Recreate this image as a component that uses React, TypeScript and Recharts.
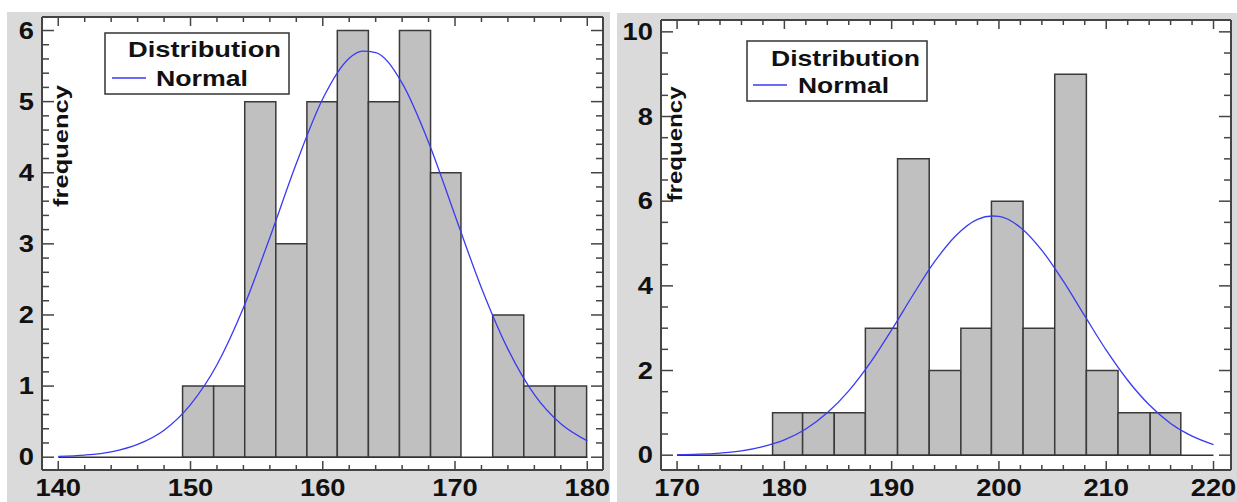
import { ComposedChart, Line, XAxis, YAxis, ReferenceArea, ReferenceLine, CartesianGrid } from 'recharts';

const FONT = "'Liberation Sans', Arial, Helvetica, sans-serif";
const INK = '#444';
const PANEL_BG = '#dadada';
const CURVE = '#3a3af2';
const DIGIT_W = 15.2;

// left sample
const leftEdges = [149.4, 151.75, 154.1, 156.45, 158.8, 161.1, 163.45, 165.8, 168.15, 170.45, 172.85, 175.2, 177.55, 179.95];
const leftCounts = [1, 1, 5, 3, 5, 6, 5, 6, 4, 0, 2, 1, 1];
const leftCurveX = [140, 142, 144, 146, 148, 150, 152, 154, 156, 158, 160, 162, 163, 164, 166, 168, 170, 172, 174, 176, 178, 180];
const leftCurveY = [0.011, 0.03, 0.076, 0.18, 0.38, 0.74, 1.3, 2.1, 3.09, 4.13, 5.04, 5.61, 5.71, 5.69, 5.26, 4.43, 3.4, 2.38, 1.52, 0.88, 0.47, 0.23];
const leftXMajor = [140, 150, 160, 170, 180];
const leftXTicks = [140, 142, 144, 146, 148, 150, 152, 154, 156, 158, 160, 162, 164, 166, 168, 170, 172, 174, 176, 178, 180];
const leftYMajor = [0, 1, 2, 3, 4, 5, 6];
const leftYTicks = [0, 0.2, 0.4, 0.6, 0.8, 1, 1.2, 1.4, 1.6, 1.8, 2, 2.2, 2.4, 2.6, 2.8, 3, 3.2, 3.4, 3.6, 3.8, 4, 4.2, 4.4, 4.6, 4.8, 5, 5.2, 5.4, 5.6, 5.8, 6];

// right sample
const rightEdges = [178.9, 181.7, 184.65, 187.55, 190.55, 193.5, 196.45, 199.3, 202.25, 205.2, 208.15, 211.1, 214.1, 216.95];
const rightCounts = [1, 1, 1, 3, 7, 2, 3, 6, 3, 9, 2, 1, 1];
const rightCurveX = [170, 172, 174, 176, 178, 180, 182, 184, 186, 188, 190, 192, 194, 196, 198, 199.4, 200, 202, 204, 206, 208, 210, 212, 214, 216, 218, 220];
const rightCurveY = [0.01, 0.023, 0.051, 0.1, 0.2, 0.36, 0.62, 1.0, 1.52, 2.18, 2.96, 3.79, 4.57, 5.19, 5.57, 5.65, 5.64, 5.38, 4.84, 4.11, 3.29, 2.48, 1.77, 1.19, 0.75, 0.45, 0.25];
const rightXMajor = [170, 180, 190, 200, 210, 220];
const rightXTicks = [170, 172, 174, 176, 178, 180, 182, 184, 186, 188, 190, 192, 194, 196, 198, 200, 202, 204, 206, 208, 210, 212, 214, 216, 218, 220];
const rightYMajor = [0, 2, 4, 6, 8, 10];
const rightYTicks = [0, 0.5, 1, 1.5, 2, 2.5, 3, 3.5, 4, 4.5, 5, 5.5, 6, 6.5, 7, 7.5, 8, 8.5, 9, 9.5, 10];

const labelStyle = { fontFamily: FONT, fontSize: 23, fontWeight: 700, fill: '#111' };

type Side = 'bottom' | 'top' | 'left' | 'right';

// draws an inward tick mark (longer on major values) and, on bottom/left, the label
function makeTick(side: Side, majors: number[]) {
  return (props: any) => {
    const v = props.payload.value;
    const major = majors.includes(v);
    const x = props.x;
    const y = props.y;
    const s = String(v);
    const lenX = major ? 9 : 5;
    const lenY = major ? 12 : 7;
    if (side === 'bottom') {
      return (
        <g>
          <line x1={x} x2={x} y1={y} y2={y - lenX} stroke={INK} strokeWidth={1.5} />
          {major && (
            <text x={x} y={y + 26} textAnchor="middle" textLength={s.length * DIGIT_W} lengthAdjust="spacingAndGlyphs" style={labelStyle}>
              {s}
            </text>
          )}
        </g>
      );
    }
    if (side === 'top') {
      return <line x1={x} x2={x} y1={y} y2={y + lenX} stroke={INK} strokeWidth={1.5} />;
    }
    if (side === 'left') {
      return (
        <g>
          <line x1={x} x2={x + lenY} y1={y} y2={y} stroke={INK} strokeWidth={1.5} />
          {major && (
            <text x={x - 8} y={y + 8} textAnchor="end" textLength={s.length * DIGIT_W} lengthAdjust="spacingAndGlyphs" style={labelStyle}>
              {s}
            </text>
          )}
        </g>
      );
    }
    return <line x1={x} x2={x - lenY} y1={y} y2={y} stroke={INK} strokeWidth={1.5} />;
  };
}

interface PanelProps {
  left: number;
  top: number;
  width: number;
  height: number;
  axisSize: { top: number; right: number; bottom: number; left: number };
  xDomain: [number, number];
  yDomain: [number, number];
  xMajor: number[];
  xTicks: number[];
  yMajor: number[];
  yTicks: number[];
  edges: number[];
  counts: number[];
  curveX: number[];
  curveY: number[];
  legend: { x: number; y: number; w: number; h: number; distX: number; distY: number; distW: number; normX: number; normY: number; normW: number; lineX: number; lineY: number };
  freq: { x: number; y: number; len: number };
}

function HistPanel(p: PanelProps) {
  const data = p.curveX.map((x, i) => ({ x, y: p.curveY[i] }));
  const axisLine = { stroke: INK, strokeWidth: 2 };
  const lg = p.legend;
  return (
    <div style={{ position: 'absolute', left: p.left, top: p.top, width: p.width, height: p.height, background: PANEL_BG }}>
      <ComposedChart width={p.width} height={p.height} data={data} margin={{ top: 0, right: 0, bottom: 0, left: 0 }}>
        <CartesianGrid fill="#fff" horizontal={false} vertical={false} />
        <XAxis dataKey="x" type="number" domain={p.xDomain} allowDataOverflow ticks={p.xTicks} interval={0}
          height={p.axisSize.bottom} tickSize={0} tickMargin={0} axisLine={axisLine} tickLine={false}
          tick={makeTick('bottom', p.xMajor)} />
        <XAxis xAxisId="top" orientation="top" dataKey="x" type="number" domain={p.xDomain} allowDataOverflow ticks={p.xTicks} interval={0}
          height={p.axisSize.top} tickSize={0} tickMargin={0} axisLine={axisLine} tickLine={false}
          tick={makeTick('top', p.xMajor)} />
        <YAxis type="number" domain={p.yDomain} allowDataOverflow ticks={p.yTicks} interval={0}
          width={p.axisSize.left} tickSize={0} tickMargin={0} axisLine={axisLine} tickLine={false}
          tick={makeTick('left', p.yMajor)} />
        <YAxis yAxisId="right" orientation="right" type="number" domain={p.yDomain} allowDataOverflow ticks={p.yTicks} interval={0}
          width={p.axisSize.right} tickSize={0} tickMargin={0} axisLine={axisLine} tickLine={false}
          tick={makeTick('right', p.yMajor)} />
        <ReferenceLine
          segment={[{ x: p.curveX[0], y: 0 }, { x: p.curveX[p.curveX.length - 1], y: 0 }]}
          stroke="#333" strokeWidth={1.5}
        />
        {p.counts.map((c, i) =>
          c > 0 ? (
            <ReferenceArea key={i} x1={p.edges[i]} x2={p.edges[i + 1]} y1={0} y2={c}
              fill="#c0c0c0" fillOpacity={1} stroke="#3a3a3a" strokeWidth={1.5} />
          ) : null
        )}
        <Line type="monotone" dataKey="y" stroke={CURVE} strokeWidth={1.3} dot={false} activeDot={false} isAnimationActive={false} />
      </ComposedChart>
      <svg width={p.width} height={p.height} style={{ position: 'absolute', left: 0, top: 0, pointerEvents: 'none' }}>
        <text
          transform={`translate(${p.freq.x},${p.freq.y}) rotate(-90)`}
          textAnchor="middle" textLength={p.freq.len} lengthAdjust="spacingAndGlyphs"
          style={{ fontFamily: FONT, fontSize: 21, fontWeight: 700, fill: '#111' }}
        >
          frequency
        </text>
        <rect x={lg.x} y={lg.y} width={lg.w} height={lg.h} fill="#fff" stroke="#333" strokeWidth={1.5} />
        <text x={lg.distX} y={lg.distY} textLength={lg.distW} lengthAdjust="spacingAndGlyphs"
          style={{ fontFamily: FONT, fontSize: 22, fontWeight: 700, fill: '#111' }}>
          Distribution
        </text>
        <line x1={lg.lineX} x2={lg.lineX + 34} y1={lg.lineY} y2={lg.lineY} stroke={CURVE} strokeWidth={1.3} />
        <text x={lg.normX} y={lg.normY} textLength={lg.normW} lengthAdjust="spacingAndGlyphs"
          style={{ fontFamily: FONT, fontSize: 22, fontWeight: 700, fill: '#111' }}>
          Normal
        </text>
      </svg>
    </div>
  );
}

export default function App() {
  return (
    <div style={{ position: 'absolute', left: 0, top: 0, width: 1237, height: 502, background: '#fff', overflow: 'hidden' }}>
      <HistPanel
        left={7} top={12} width={603} height={490}
        axisSize={{ top: 5, right: 7, bottom: 32, left: 35 }}
        xDomain={[138.77, 181.19]} yDomain={[-0.18, 6.19]}
        xMajor={leftXMajor} xTicks={leftXTicks} yMajor={leftYMajor} yTicks={leftYTicks}
        edges={leftEdges} counts={leftCounts} curveX={leftCurveX} curveY={leftCurveY}
        legend={{ x: 98, y: 21, w: 184, h: 61, distX: 121, distY: 45, distW: 153, normX: 149, normY: 74, normW: 92, lineX: 105, lineY: 66 }}
        freq={{ x: 61, y: 134, len: 122 }}
      />
      <HistPanel
        left={617} top={13} width={620} height={489}
        axisSize={{ top: 7, right: 6, bottom: 32, left: 44 }}
        xDomain={[168.5, 221.63]} yDomain={[-0.35, 10.28]}
        xMajor={rightXMajor} xTicks={rightXTicks} yMajor={rightYMajor} yTicks={rightYTicks}
        edges={rightEdges} counts={rightCounts} curveX={rightCurveX} curveY={rightCurveY}
        legend={{ x: 130, y: 28, w: 180, h: 60, distX: 154, distY: 53, distW: 149, normX: 181, normY: 80, normW: 91, lineX: 136, lineY: 72 }}
        freq={{ x: 65, y: 131, len: 115 }}
      />
    </div>
  );
}
